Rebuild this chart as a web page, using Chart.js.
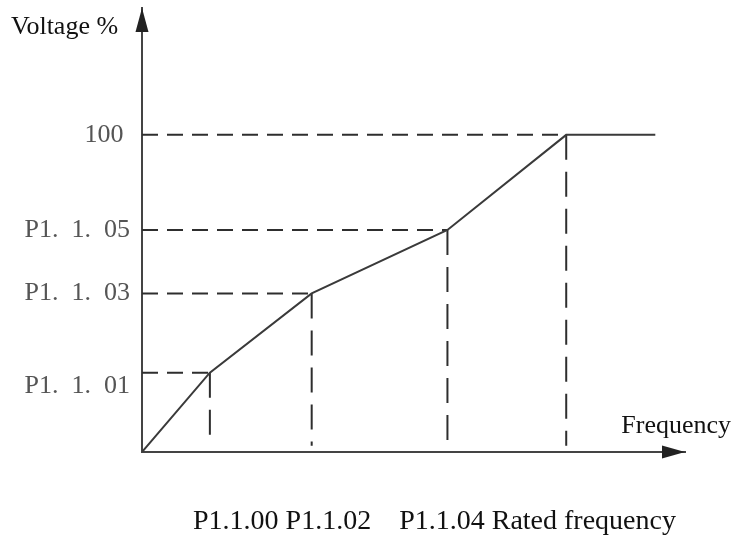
<!DOCTYPE html>
<html>
<head>
<meta charset="utf-8">
<script src="https://cdn.jsdelivr.net/npm/chart.js@4/dist/chart.umd.min.js"></script>
<style>
  html, body { margin: 0; padding: 0; background: #ffffff; }
  #wrap { width: 734px; height: 535px; position: relative; }
</style>
</head>
<body>
<div id="wrap"><canvas id="c"></canvas></div>
<script>
// ---- data ----
const freqLabels = ['P1.1.00', 'P1.1.02', 'P1.1.04', 'Rated frequency'];
const curveX = [0, 16, 40, 72, 100, 121];   // frequency (rated = 100)
const curveY = [0, 25, 50, 70, 100, 100];   // voltage %
const yTickValues = [25, 50, 70, 100];
const yTickLabels = ['P1.  1.  01', 'P1.  1.  03', 'P1.  1.  05', '100 '];
const yAxisTitle = 'Voltage %';
const xAxisTitle = 'Frequency';

// ---- presentation ----
const X_MAX = 128, Y_MAX = 140, DASH_END = 2;
const SERIF = '"Liberation Serif", "Times New Roman", serif';
const LINE = '#3a3a3a';

const curve = curveX.map((x, i) => ({ x, y: curveY[i] }));
const guideSets = [];
for (let i = 1; i <= 4; i++) {
  guideSets.push({
    data: [{ x: 0, y: curveY[i] }, { x: curveX[i], y: curveY[i] }],
    borderColor: '#2e2e2e', borderWidth: 2, borderDash: [16, 9],
    pointRadius: 0, showLine: true, order: 2
  });
  guideSets.push({
    data: [{ x: curveX[i], y: curveY[i] }, { x: curveX[i], y: DASH_END }],
    borderColor: '#2e2e2e', borderWidth: 2, borderDash: [25, 12],
    pointRadius: 0, showLine: true, order: 2
  });
}

const decor = {
  id: 'decor',
  afterDraw(chart) {
    const { ctx, scales: { x, y } } = chart;
    const x0 = x.getPixelForValue(0), y0 = y.getPixelForValue(0);
    const yTop = y.getPixelForValue(Y_MAX), xEnd = x.getPixelForValue(X_MAX);
    ctx.save();
    ctx.fillStyle = '#222';
    // y arrow
    ctx.beginPath();
    ctx.moveTo(x0, yTop);
    ctx.lineTo(x0 - 6.5, yTop + 24);
    ctx.lineTo(x0 + 6.5, yTop + 24);
    ctx.closePath(); ctx.fill();
    // x arrow
    ctx.beginPath();
    ctx.moveTo(xEnd, y0);
    ctx.lineTo(xEnd - 23, y0 - 6.5);
    ctx.lineTo(xEnd - 23, y0 + 6.5);
    ctx.closePath(); ctx.fill();
    // texts
    ctx.fillStyle = '#111';
    ctx.textBaseline = 'alphabetic';
    ctx.font = '26px ' + SERIF;
    ctx.textAlign = 'left';
    ctx.fillText(yAxisTitle, 11, 34);
    ctx.textAlign = 'right';
    ctx.fillText(xAxisTitle, 731, y0 - 19);
    ctx.textAlign = 'left';
    ctx.font = '28px ' + SERIF;
    const line = freqLabels[0] + ' ' + freqLabels[1] + '    ' + freqLabels[2] + ' ' + freqLabels[3];
    ctx.fillText(line, 193, 529);
    ctx.restore();
  }
};

new Chart(document.getElementById('c'), {
  type: 'scatter',
  data: {
    datasets: [
      { data: curve, borderColor: LINE, borderWidth: 2, pointRadius: 0, showLine: true, tension: 0, order: 1 },
      ...guideSets
    ]
  },
  options: {
    responsive: true,
    maintainAspectRatio: false,
    animation: false,
    layout: { padding: { top: 8, right: 49, left: 0, bottom: 0 } },
    plugins: { legend: { display: false }, tooltip: { enabled: false } },
    scales: {
      x: {
        type: 'linear', min: 0, max: X_MAX,
        grid: { display: false },
        border: { display: true, color: '#444', width: 2 },
        ticks: { display: false },
        afterFit(s) { s.height = 83; s.paddingLeft = 0; s.paddingRight = 0; }
      },
      y: {
        type: 'linear', min: 0, max: Y_MAX,
        grid: { display: false },
        border: { display: true, color: '#444', width: 2 },
        afterBuildTicks(s) { s.ticks = yTickValues.map(v => ({ value: v })); },
        afterFit(s) { s.width = 142; s.paddingTop = 0; s.paddingBottom = 0; },
        ticks: {
          autoSkip: false,
          padding: 4,
          color: '#555',
          font: { family: SERIF, size: 26, lineHeight: 1 },
          callback(v) {
            const i = yTickValues.indexOf(v);
            const lbl = i >= 0 ? yTickLabels[i] : '';
            return v === yTickValues[0] ? ['', lbl] : lbl;
          }
        }
      }
    }
  },
  plugins: [decor]
});
</script>
</body>
</html>
